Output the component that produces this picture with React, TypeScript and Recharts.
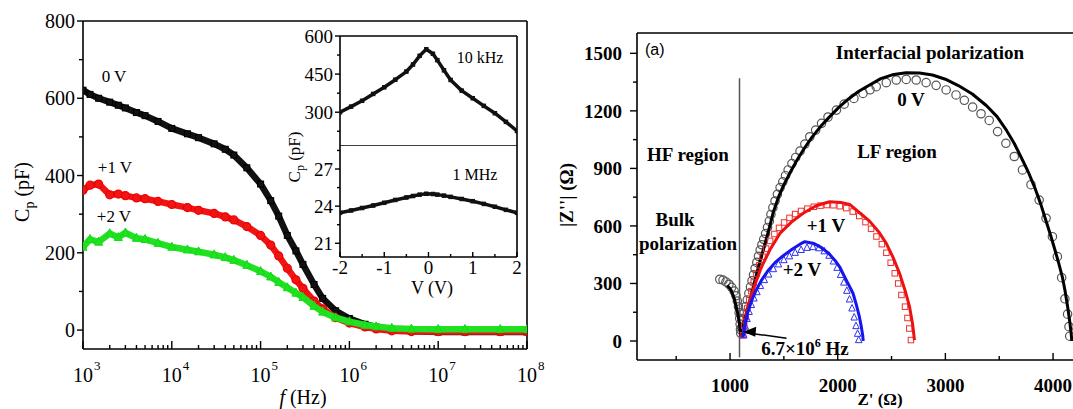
import React from "react";
import { ScatterChart, Scatter, XAxis, YAxis, ReferenceLine, ReferenceDot } from "recharts";

const SERIF = '"Liberation Serif", "DejaVu Serif", serif';
const SANS = '"Liberation Sans", Arial, sans-serif';
const serif = { fontFamily: SERIF };

// ---------- left panel: Cp vs f ----------
const freq = [1e3, 1.2e3, 1.5e3, 2e3, 2.5e3, 3e3, 4e3, 5e3, 7e3, 1e4, 1.5e4, 2e4, 3e4, 4e4, 5e4, 7e4, 1e5, 1.3e5, 1.6e5, 2e5, 2.5e5, 3e5, 4e5, 5e5, 7e5, 1e6, 1.5e6, 2e6, 3e6, 5e6, 1e7, 2e7, 5e7, 1e8];
const cp0V = [621, 610, 600, 590, 582, 575, 563, 555, 540, 522, 508, 498, 482, 468, 453, 420, 378, 335, 295, 245, 205, 170, 118, 82, 50, 30, 15, 8, 2, -3, -5, -5, -5, -5];
const cp1V = [362, 375, 378, 350, 352, 348, 342, 340, 333, 325, 317, 310, 302, 293, 285, 268, 245, 220, 192, 160, 130, 108, 75, 55, 32, 18, 8, 3, -2, -4, -4, -4, -4, -4];
const cp2V = [215, 235, 228, 250, 240, 252, 238, 235, 225, 215, 208, 203, 195, 188, 181, 168, 152, 138, 124, 110, 96, 85, 62, 47, 32, 22, 13, 9, 5, 3, 2, 2, 2, 2];

const freqTicks = [
  1e3, 2e3, 3e3, 4e3, 5e3, 6e3, 7e3, 8e3, 9e3,
  1e4, 2e4, 3e4, 4e4, 5e4, 6e4, 7e4, 8e4, 9e4,
  1e5, 2e5, 3e5, 4e5, 5e5, 6e5, 7e5, 8e5, 9e5,
  1e6, 2e6, 3e6, 4e6, 5e6, 6e6, 7e6, 8e6, 9e6,
  1e7, 2e7, 3e7, 4e7, 5e7, 6e7, 7e7, 8e7, 9e7, 1e8,
];
const freqDecades = [1e3, 1e4, 1e5, 1e6, 1e7, 1e8];
const cpTicks = [0, 100, 200, 300, 400, 500, 600, 700, 800];
const cpLabels = [0, 200, 400, 600, 800];

// ---------- inset: Cp vs bias ----------
const biasV = [-2, -1.75, -1.5, -1.25, -1, -0.75, -0.5, -0.35, -0.2, -0.05, 0.1, 0.2, 0.35, 0.5, 0.75, 1, 1.25, 1.5, 1.75, 2];
const cp10kHz = [300, 322, 345, 372, 398, 428, 460, 488, 522, 548, 530, 505, 465, 427, 385, 355, 325, 296, 262, 226];
const cp1MHz = [23.46, 23.65, 23.85, 24.05, 24.27, 24.5, 24.7, 24.82, 24.93, 25.0, 24.98, 24.93, 24.85, 24.75, 24.58, 24.4, 24.18, 23.95, 23.7, 23.46];
const biasTicks = [-2, -1.5, -1, -0.5, 0, 0.5, 1, 1.5, 2];
const biasLabels = [-2, -1, 0, 1, 2];
const topTicks = [225, 300, 375, 450, 525, 600];
const topLabels = [300, 450, 600];
const lowTicks = [21, 22.5, 24, 25.5, 27, 28.5];
const lowLabels = [21, 24, 27];

// ---------- right panel: Nyquist ----------
const fit0V: [number, number][] = [
  [975, 290], [1010, 265], [1040, 220], [1065, 160], [1085, 100], [1095, 50], [1100, 30],
  [1120, 80], [1140, 120], [1160, 165], [1185, 214], [1215, 280], [1245, 345], [1275, 410],
  [1308, 474], [1335, 528], [1360, 580], [1401, 670], [1450, 750], [1500, 815], [1560, 880],
  [1618, 940], [1690, 1005], [1760, 1062], [1840, 1118], [1926, 1170], [2010, 1218], [2100, 1262],
  [2196, 1302], [2296, 1335], [2400, 1368], [2520, 1390], [2636, 1399], [2760, 1397], [2880, 1387],
  [3000, 1365], [3120, 1332], [3250, 1288], [3380, 1228], [3480, 1170], [3560, 1105], [3640, 1030],
  [3716, 944], [3775, 875], [3830, 800], [3885, 715], [3932, 631], [3975, 555], [4015, 480],
  [4053, 405], [4086, 335], [4112, 260], [4135, 180], [4153, 110], [4165, 55], [4172, 15], [4174, 0],
];
const data0V: [number, number][] = [
  [905, 322], [935, 318], [962, 308], [990, 296], [1015, 280], [1038, 260], [1055, 236], [1068, 208],
  [1078, 178], [1085, 148], [1090, 118], [1094, 88], [1097, 60], [1100, 40],
  [1108, 70], [1118, 110], [1130, 145], [1145, 180], [1160, 214], [1175, 248], [1190, 282], [1204, 314],
  [1218, 345], [1233, 378], [1249, 410], [1264, 442], [1280, 474], [1296, 502], [1313, 530], [1330, 560],
  [1348, 592], [1365, 625], [1380, 660], [1398, 695], [1418, 730], [1440, 765], [1465, 800], [1490, 830],
  [1515, 862], [1540, 892], [1575, 925], [1610, 957], [1650, 990], [1695, 1027], [1741, 1065], [1795, 1100],
  [1850, 1135], [1910, 1168], [1988, 1204], [2060, 1235], [2150, 1265], [2235, 1291], [2300, 1310],
  [2358, 1326], [2451, 1347], [2544, 1361], [2636, 1364], [2729, 1361], [2821, 1347], [2914, 1333],
  [3007, 1309], [3099, 1283], [3176, 1255], [3253, 1220], [3331, 1185], [3407, 1150], [3485, 1092],
  [3562, 1031], [3640, 962], [3716, 892], [3795, 815], [3871, 735], [3935, 640], [3994, 544],
  [4040, 440], [4080, 330], [4110, 220], [4135, 140], [4148, 75], [4155, 25],
];
const fit1V: [number, number][] = [
  [1115, 20], [1140, 100], [1160, 160], [1185, 214], [1235, 300], [1293, 387], [1375, 480], [1463, 561],
  [1570, 620], [1679, 666], [1800, 705], [1926, 726], [2030, 722], [2111, 712], [2200, 670], [2296, 625],
  [2380, 570], [2451, 509], [2515, 435], [2574, 353], [2625, 265], [2667, 179], [2695, 90], [2713, 5],
];
const data1V: [number, number][] = [
  [1120, 30], [1132, 80], [1145, 125], [1160, 170], [1178, 215], [1198, 260], [1220, 305], [1245, 350],
  [1272, 395], [1302, 440], [1335, 482], [1372, 522], [1412, 558], [1455, 590], [1502, 618], [1552, 642],
  [1605, 662], [1660, 678], [1718, 690], [1778, 700], [1840, 706], [1900, 709], [1960, 708], [2020, 703],
  [2080, 693], [2140, 675], [2200, 652], [2258, 620], [2310, 585], [2360, 545], [2410, 505], [2452, 460],
  [2492, 408], [2530, 353], [2562, 300], [2592, 240], [2625, 179], [2648, 120], [2665, 65], [2680, 5],
];
const fit2V: [number, number][] = [
  [1120, 20], [1140, 85], [1165, 150], [1200, 210], [1240, 262], [1290, 315], [1350, 365], [1420, 410],
  [1494, 445], [1580, 480], [1650, 505], [1695, 518], [1780, 508], [1850, 487], [1920, 455], [1975, 420],
  [2018, 387], [2060, 340], [2100, 295], [2142, 249], [2175, 185], [2200, 130], [2219, 75], [2232, 30], [2237, 0],
];
const data2V: [number, number][] = [
  [1128, 30], [1142, 75], [1158, 115], [1177, 152], [1198, 188], [1222, 222], [1250, 255], [1282, 287],
  [1318, 318], [1358, 347], [1402, 375], [1450, 400], [1500, 422], [1552, 442], [1605, 460], [1660, 475],
  [1715, 486], [1770, 490], [1825, 484], [1875, 468], [1920, 445], [1960, 415], [1995, 382], [2027, 345],
  [2057, 305], [2085, 262], [2110, 217], [2133, 170], [2153, 123], [2170, 78], [2185, 38], [2195, 5],
];
const zReTicks = [500, 1000, 1500, 2000, 2500, 3000, 3500, 4000];
const zReLabels = [1000, 2000, 3000, 4000];
const zImTicks = [0, 150, 300, 450, 600, 750, 900, 1050, 1200, 1350, 1500];
const zImLabels = [0, 300, 600, 900, 1200, 1500];

const zip = (xs: number[], ys: number[]) => xs.map((x, i) => ({ x, y: ys[i] }));
const pairs = (ps: [number, number][]) => ps.map(([x, y]) => ({ x, y }));

// ---------- tick renderers ----------
const leftTick = (labels: number[], size: number, bold = false, big = 6, small = 4, gap = 2) => (p: any) => {
  const v = p.payload.value;
  const major = labels.includes(v);
  return (
    <g>
      <line x1={p.x - (major ? big : small)} x2={p.x} y1={p.y} y2={p.y} stroke="#000" strokeWidth={1.4} />
      {major && (
        <text x={p.x - big - gap} y={p.y} dy="0.35em" textAnchor="end" fontSize={size}
          style={{ fontFamily: SERIF, fontWeight: bold ? 700 : 400 }} fill="#000">{v}</text>
      )}
    </g>
  );
};

const bottomTick = (labels: number[], size: number, off: number, bold = false, big = 7, small = 4) => (p: any) => {
  const v = p.payload.value;
  const major = labels.includes(v);
  return (
    <g>
      <line x1={p.x} x2={p.x} y1={p.y} y2={p.y - (major ? big : small)} stroke="#000" strokeWidth={1.4} />
      {major && (
        <text x={p.x} y={p.y + off} textAnchor="middle" fontSize={size}
          style={{ fontFamily: SERIF, fontWeight: bold ? 700 : 400 }} fill="#000">{v}</text>
      )}
    </g>
  );
};

const logTick = (p: any) => {
  const v = p.payload.value;
  const major = freqDecades.includes(v);
  const exp = Math.round(Math.log10(v));
  return (
    <g>
      <line x1={p.x} x2={p.x} y1={p.y} y2={p.y - (major ? 8 : 4)} stroke="#000" strokeWidth={1.4} />
      {major && (
        <g fill="#000">
          <text x={p.x} y={p.y + 33} textAnchor="middle" fontSize={20} style={serif}>10</text>
          <text x={p.x + 11} y={p.y + 21} fontSize={13} style={serif}>{exp}</text>
        </g>
      )}
    </g>
  );
};

// ---------- marker shapes ----------
const square = (s: number, fill: string, stroke: string) => (p: any) =>
  <rect x={p.cx - s / 2} y={p.cy - s / 2} width={s} height={s} fill={fill} stroke={stroke} strokeWidth={1} />;
const circle = (r: number, fill: string, stroke: string) => (p: any) =>
  <circle cx={p.cx} cy={p.cy} r={r} fill={fill} stroke={stroke} strokeWidth={1.2} />;
const triangle = (s: number, fill: string, stroke: string) => (p: any) =>
  <polygon points={`${p.cx},${p.cy - s * 0.6} ${p.cx - s / 2},${p.cy + s * 0.4} ${p.cx + s / 2},${p.cy + s * 0.4}`}
    fill={fill} stroke={stroke} strokeWidth={1} />;
const none = () => <g />;

const AX = { stroke: "#000", strokeWidth: 1.6 };

function CpFreqChart() {
  return (
    <ScatterChart width={560} height={409} margin={{ top: 21, right: 33, bottom: 0, left: 0 }}>
      <XAxis type="number" dataKey="x" scale="log" domain={[1e3, 1e8]} allowDataOverflow ticks={freqTicks}
        interval={0} height={60} tickSize={0} tickMargin={0} tickLine={false} axisLine={AX} tick={logTick} />
      <YAxis type="number" dataKey="y" domain={[-49, 800]} allowDataOverflow ticks={cpTicks} interval={0}
        width={83} tickSize={0} tickMargin={0} tickLine={false} axisLine={AX} tick={leftTick(cpLabels, 20)} />
      <ReferenceLine y={800} stroke="#000" strokeWidth={1.6} ifOverflow="visible" />
      <ReferenceLine x={1e8} stroke="#000" strokeWidth={1.6} ifOverflow="visible" />
      <Scatter data={zip(freq, cp0V)} line={{ stroke: "#111", strokeWidth: 6.5, strokeLinejoin: "round" }}
        shape={square(6, "#111", "#000")} isAnimationActive={false} />
      <Scatter data={zip(freq, cp1V)} line={{ stroke: "#f01515", strokeWidth: 6.5, strokeLinejoin: "round" }}
        shape={circle(4, "#f01515", "#e00")} isAnimationActive={false} />
      <Scatter data={zip(freq, cp2V)} line={{ stroke: "#22e022", strokeWidth: 6.5, strokeLinejoin: "round" }}
        shape={triangle(8, "#22e022", "#1d1")} isAnimationActive={false} />
    </ScatterChart>
  );
}

function InsetTop() {
  return (
    <ScatterChart width={232} height={126} margin={{ top: 16, right: 5, bottom: 0, left: 0 }}>
      <XAxis type="number" dataKey="x" domain={[-2, 2]} allowDataOverflow hide />
      <YAxis type="number" dataKey="y" domain={[167, 600]} allowDataOverflow ticks={topTicks} interval={0}
        width={50} tickSize={0} tickMargin={0} tickLine={false} axisLine={AX} tick={leftTick(topLabels, 19, false, 5, 3)} />
      <ReferenceLine y={600} stroke="#000" strokeWidth={1.6} ifOverflow="visible" />
      <ReferenceLine y={167} stroke="#000" strokeWidth={1.4} ifOverflow="visible" />
      <ReferenceLine x={2} stroke="#000" strokeWidth={1.6} ifOverflow="visible" />
      <Scatter data={zip(biasV, cp10kHz)} line={{ stroke: "#111", strokeWidth: 3.5, strokeLinejoin: "round" }}
        shape={square(3.5, "#111", "#111")} isAnimationActive={false} />
    </ScatterChart>
  );
}

function InsetBottom() {
  return (
    <ScatterChart width={232} height={160} margin={{ top: 0, right: 5, bottom: 0, left: 0 }}>
      <XAxis type="number" dataKey="x" domain={[-2, 2]} allowDataOverflow ticks={biasTicks} interval={0}
        height={49} tickSize={0} tickMargin={0} tickLine={false} axisLine={AX} tick={bottomTick(biasLabels, 19, 17, false, 5, 3)} />
      <YAxis type="number" dataKey="y" domain={[19.89, 28.86]} allowDataOverflow ticks={lowTicks} interval={0}
        width={50} tickSize={0} tickMargin={0} tickLine={false} axisLine={AX} tick={leftTick(lowLabels, 19, false, 5, 3)} />
      <ReferenceLine x={2} stroke="#000" strokeWidth={1.6} ifOverflow="visible" />
      <Scatter data={zip(biasV, cp1MHz)} line={{ stroke: "#111", strokeWidth: 3.5, strokeLinejoin: "round" }}
        shape={square(3.5, "#111", "#111")} isAnimationActive={false} />
    </ScatterChart>
  );
}

const arrowHead = (p: any) => (
  <polygon points={`${p.cx},${p.cy} ${p.cx + 13},${p.cy - 5} ${p.cx + 12},${p.cy + 5}`} fill="#000" />
);

function NyquistChart() {
  return (
    <ScatterChart width={540} height={409} margin={{ top: 33, right: 0, bottom: 0, left: 0 }}>
      <XAxis type="number" dataKey="x" domain={[136, 4436]} allowDataOverflow ticks={zReTicks} interval={0}
        height={49} tickSize={0} tickMargin={0} tickLine={false} axisLine={AX} tick={bottomTick(zReLabels, 19, 32, true)} />
      <YAxis type="number" dataKey="y" domain={[-99, 1606]} allowDataOverflow ticks={zImTicks} interval={0}
        width={77} tickSize={0} tickMargin={0} tickLine={false} axisLine={AX} tick={leftTick(zImLabels, 19, true, 7, 4, 8)} />
      <ReferenceLine y={1606} stroke="#000" strokeWidth={1.6} ifOverflow="visible" />
      <ReferenceLine segment={[{ x: 1088, y: 1370 }, { x: 1088, y: -85 }]} stroke="#555" strokeWidth={1.5} />
      <Scatter data={pairs(data0V)} shape={circle(4.2, "none", "#555")} isAnimationActive={false} />
      <Scatter data={pairs(fit0V)} line={{ stroke: "#000", strokeWidth: 3, strokeLinejoin: "round" }}
        shape={none} isAnimationActive={false} />
      <Scatter data={pairs(data1V)} shape={square(5.5, "none", "#f03030")} isAnimationActive={false} />
      <Scatter data={pairs(fit1V)} line={{ stroke: "#ee1111", strokeWidth: 3, strokeLinejoin: "round" }}
        shape={none} isAnimationActive={false} />
      <Scatter data={pairs(data2V)} shape={triangle(6.5, "none", "#3030f0")} isAnimationActive={false} />
      <Scatter data={pairs(fit2V)} line={{ stroke: "#1515ee", strokeWidth: 3, strokeLinejoin: "round" }}
        shape={none} isAnimationActive={false} />
      <ReferenceLine segment={[{ x: 1525, y: 14 }, { x: 1135, y: 45 }]} stroke="#000" strokeWidth={1.5} />
      <ReferenceDot x={1123} y={48} r={0} shape={arrowHead} />
    </ScatterChart>
  );
}

export default function App() {
  return (
    <div style={{ position: "absolute", left: 0, top: 0, width: 1073, height: 409, overflow: "hidden", background: "#fff", fontFamily: SERIF }}>
      <div style={{ position: "absolute", left: 0, top: 0 }}><CpFreqChart /></div>
      <div style={{ position: "absolute", left: 340, top: 36, width: 177, height: 221, background: "#fff" }} />
      <div style={{ position: "absolute", left: 290, top: 20 }}><InsetTop /></div>
      <div style={{ position: "absolute", left: 290, top: 146 }}><InsetBottom /></div>
      <div style={{ position: "absolute", left: 560, top: 0 }}><NyquistChart /></div>
      <svg width={1073} height={409} style={{ position: "absolute", left: 0, top: 0, pointerEvents: "none", fontFamily: SERIF }}
        fill="#000">
        {/* left panel */}
        <text x={114} y={82} fontSize={17} textAnchor="middle">0 V</text>
        <text x={115} y={173} fontSize={17} textAnchor="middle">+1 V</text>
        <text x={114} y={222} fontSize={17} textAnchor="middle">+2 V</text>
        <text transform="translate(29,192) rotate(-90)" textAnchor="middle" fontSize={20}>
          C<tspan fontSize={14} dy={5}>p</tspan><tspan dy={-5}> (pF)</tspan>
        </text>
        <text x={303} y={404} textAnchor="middle" fontSize={20}><tspan fontStyle="italic">f</tspan> (Hz)</text>
        {/* inset */}
        <text x={480} y={63} fontSize={16} textAnchor="middle">10 kHz</text>
        <text x={475} y={180} fontSize={16} textAnchor="middle">1 MHz</text>
        <text x={432} y={294} fontSize={18} textAnchor="middle">V (V)</text>
        <text transform="translate(300,157) rotate(-90)" textAnchor="middle" fontSize={17}>
          C<tspan fontSize={12} dy={4}>p</tspan><tspan dy={-4}> (pF)</tspan>
        </text>
        {/* right panel */}
        <text x={645} y={55} fontSize={16} style={{ fontFamily: SANS }}>(a)</text>
        <g fontWeight="bold" fontSize={19} textAnchor="middle">
          <text x={930} y={59}>Interfacial polarization</text>
          <text x={911} y={106}>0 V</text>
          <text x={897} y={158}>LF region</text>
          <text x={688} y={161}>HF region</text>
          <text x={675} y={226}>Bulk</text>
          <text x={688} y={250}>polarization</text>
          <text x={826} y={232}>+1 V</text>
          <text x={802} y={276}>+2 V</text>
          <text x={805} y={355}>6.7×10<tspan fontSize={12} dy={-8}>6</tspan><tspan dy={8}> Hz</tspan></text>
          <text transform="translate(573,195) rotate(-90)">|Z''| (Ω)</text>
          <text x={880} y={405} fontSize={17}>Z' (Ω)</text>
        </g>
      </svg>
    </div>
  );
}
